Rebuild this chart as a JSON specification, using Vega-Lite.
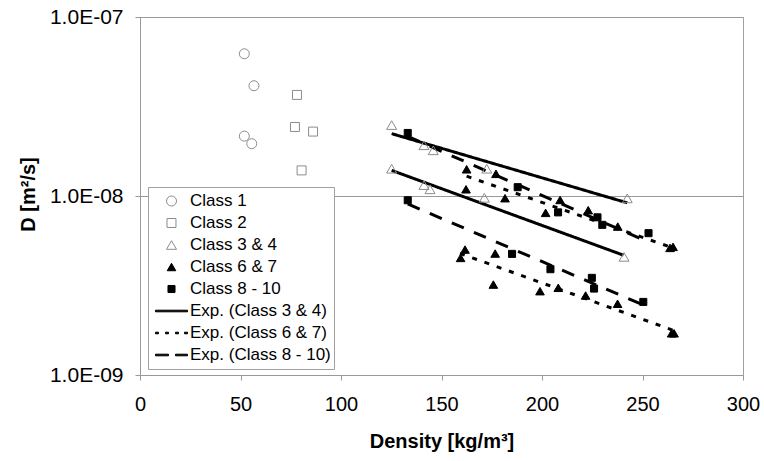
{
  "$schema": "https://vega.github.io/schema/vega-lite/v6.json",
  "width": 603,
  "height": 358,
  "autosize": {"type": "none"},
  "padding": {"left": 140, "top": 17, "right": 21, "bottom": 86},
  "background": "white",
  "config": {
    "view": {"stroke": "#a0a0a0", "strokeWidth": 1},
    "font": "Liberation Sans",
    "axis": {
      "labelFont": "Liberation Sans",
      "titleFont": "Liberation Sans",
      "labelColor": "black",
      "titleColor": "black",
      "domainColor": "#999999",
      "tickColor": "#999999",
      "gridColor": "#999999",
      "tickSize": 5,
      "labelFontSize": 20,
      "titleFontSize": 20,
      "titleFontWeight": "bold",
      "labelFlush": false,
      "labelOverlap": false
    },
    "legend": {
      "title": null,
      "orient": "none",
      "legendX": 8,
      "legendY": 170,
      "padding": 3,
      "rowPadding": 0,
      "clipHeight": 22,
      "symbolSize": 1024,
      "symbolStrokeWidth": 1,
      "symbolOffset": 4,
      "labelOffset": 2,
      "labelFont": "Liberation Sans",
      "labelFontSize": 17,
      "labelColor": "black",
      "labelLimit": 300,
      "strokeColor": "#a0a0a0",
      "fillColor": "white",
      "symbolOpacity": 1
    }
  },
  "datasets": {
    "pts": [
      {"density": 51.9, "D": 6.23e-8, "series": "Class 1"},
      {"density": 56.7, "D": 4.13e-8, "series": "Class 1"},
      {"density": 51.9, "D": 2.16e-8, "series": "Class 1"},
      {"density": 55.6, "D": 1.96e-8, "series": "Class 1"},
      {"density": 78.1, "D": 3.67e-8, "series": "Class 2"},
      {"density": 77.1, "D": 2.43e-8, "series": "Class 2"},
      {"density": 86.1, "D": 2.29e-8, "series": "Class 2"},
      {"density": 80.4, "D": 1.39e-8, "series": "Class 2"},
      {"density": 125.2, "D": 2.49e-8, "series": "Class 3 & 4"},
      {"density": 141.3, "D": 1.92e-8, "series": "Class 3 & 4"},
      {"density": 145.9, "D": 1.80e-8, "series": "Class 3 & 4"},
      {"density": 172.5, "D": 1.42e-8, "series": "Class 3 & 4"},
      {"density": 242.4, "D": 9.7e-9, "series": "Class 3 & 4"},
      {"density": 125.2, "D": 1.42e-8, "series": "Class 3 & 4"},
      {"density": 141.3, "D": 1.15e-8, "series": "Class 3 & 4"},
      {"density": 144.3, "D": 1.09e-8, "series": "Class 3 & 4"},
      {"density": 171.3, "D": 9.77e-9, "series": "Class 3 & 4"},
      {"density": 240.8, "D": 4.57e-9, "series": "Class 3 & 4"},
      {"density": 162.5, "D": 1.41e-8, "series": "Class 6 & 7"},
      {"density": 177.1, "D": 1.33e-8, "series": "Class 6 & 7"},
      {"density": 162.2, "D": 1.09e-8, "series": "Class 6 & 7"},
      {"density": 181.6, "D": 9.72e-9, "series": "Class 6 & 7"},
      {"density": 201.8, "D": 8.05e-9, "series": "Class 6 & 7"},
      {"density": 209.0, "D": 9.5e-9, "series": "Class 6 & 7"},
      {"density": 223.0, "D": 8.33e-9, "series": "Class 6 & 7"},
      {"density": 237.7, "D": 6.75e-9, "series": "Class 6 & 7"},
      {"density": 263.7, "D": 5.13e-9, "series": "Class 6 & 7"},
      {"density": 265.2, "D": 5.2e-9, "series": "Class 6 & 7"},
      {"density": 161.7, "D": 5.02e-9, "series": "Class 6 & 7"},
      {"density": 159.5, "D": 4.51e-9, "series": "Class 6 & 7"},
      {"density": 176.7, "D": 4.77e-9, "series": "Class 6 & 7"},
      {"density": 175.8, "D": 3.2e-9, "series": "Class 6 & 7"},
      {"density": 199.0, "D": 2.94e-9, "series": "Class 6 & 7"},
      {"density": 208.1, "D": 3.07e-9, "series": "Class 6 & 7"},
      {"density": 221.7, "D": 2.78e-9, "series": "Class 6 & 7"},
      {"density": 237.6, "D": 2.5e-9, "series": "Class 6 & 7"},
      {"density": 264.5, "D": 1.71e-9, "series": "Class 6 & 7"},
      {"density": 265.7, "D": 1.71e-9, "series": "Class 6 & 7"},
      {"density": 133.2, "D": 2.25e-8, "series": "Class 8 - 10"},
      {"density": 187.9, "D": 1.12e-8, "series": "Class 8 - 10"},
      {"density": 208.0, "D": 8.1e-9, "series": "Class 8 - 10"},
      {"density": 227.6, "D": 7.6e-9, "series": "Class 8 - 10"},
      {"density": 230.0, "D": 6.9e-9, "series": "Class 8 - 10"},
      {"density": 253.0, "D": 6.2e-9, "series": "Class 8 - 10"},
      {"density": 133.2, "D": 9.47e-9, "series": "Class 8 - 10"},
      {"density": 185.1, "D": 4.75e-9, "series": "Class 8 - 10"},
      {"density": 204.2, "D": 3.9e-9, "series": "Class 8 - 10"},
      {"density": 224.8, "D": 3.49e-9, "series": "Class 8 - 10"},
      {"density": 225.9, "D": 3.04e-9, "series": "Class 8 - 10"},
      {"density": 250.4, "D": 2.56e-9, "series": "Class 8 - 10"}
    ],
    "fits": [
      {"density": 125.2, "D": 2.23e-8, "fit": "Exp. (Class 3 & 4)", "band": "a"},
      {"density": 242.4, "D": 9.16e-9, "fit": "Exp. (Class 3 & 4)", "band": "a"},
      {"density": 125.2, "D": 1.39e-8, "fit": "Exp. (Class 3 & 4)", "band": "b"},
      {"density": 240.5, "D": 4.67e-9, "fit": "Exp. (Class 3 & 4)", "band": "b"},
      {"density": 162.5, "D": 1.29e-8, "fit": "Exp. (Class 6 & 7)", "band": "c"},
      {"density": 264.7, "D": 5.15e-9, "fit": "Exp. (Class 6 & 7)", "band": "c"},
      {"density": 159.2, "D": 4.78e-9, "fit": "Exp. (Class 6 & 7)", "band": "d"},
      {"density": 265.7, "D": 1.77e-9, "fit": "Exp. (Class 6 & 7)", "band": "d"},
      {"density": 133.2, "D": 2.15e-8, "fit": "Exp. (Class 8 - 10)", "band": "e"},
      {"density": 253.4, "D": 5.5e-9, "fit": "Exp. (Class 8 - 10)", "band": "e"},
      {"density": 133.2, "D": 9.03e-9, "fit": "Exp. (Class 8 - 10)", "band": "f"},
      {"density": 250.4, "D": 2.46e-9, "fit": "Exp. (Class 8 - 10)", "band": "f"}
    ]
  },
  "encoding": {
    "x": {
      "field": "density",
      "type": "quantitative",
      "scale": {"domain": [0, 300], "nice": false, "zero": false},
      "axis": {
        "values": [0, 50, 100, 150, 200, 250, 300],
        "grid": false,
        "labelPadding": 14,
        "title": "Density [kg/m³]",
        "titleBaseline": "alphabetic",
        "titleY": 72
      }
    },
    "y": {
      "field": "D",
      "type": "quantitative",
      "scale": {"type": "log", "domain": [1e-9, 1e-7], "nice": false},
      "axis": {
        "values": [1e-9, 1e-8, 1e-7],
        "grid": true,
        "labelPadding": 12,
        "labelFontSize": 21,
        "labelExpr": "'1.0E-0' + round(-log(datum.value)/LN10)",
        "title": "D [m²/s]",
        "titleBaseline": "alphabetic",
        "titleX": -106,
        "titleY": 177
      }
    }
  },
  "layer": [
    {
      "data": {"name": "fits"},
      "mark": {"type": "line", "color": "black", "strokeWidth": 3},
      "encoding": {
        "detail": {"field": "band", "type": "nominal"},
        "strokeDash": {
          "field": "fit",
          "type": "nominal",
          "scale": {
            "domain": ["Exp. (Class 3 & 4)", "Exp. (Class 6 & 7)", "Exp. (Class 8 - 10)"],
            "range": [[1, 0], [5, 8], [13, 11]]
          },
          "legend": null
        }
      }
    },
    {
      "data": {"name": "pts"},
      "mark": {"type": "point", "filled": true, "opacity": 1, "size": 1024, "strokeWidth": 1},
      "encoding": {
        "shape": {
          "field": "series",
          "type": "nominal",
          "scale": {
            "domain": ["Class 1", "Class 2", "Class 3 & 4", "Class 6 & 7", "Class 8 - 10", "Exp. (Class 3 & 4)", "Exp. (Class 6 & 7)", "Exp. (Class 8 - 10)"],
            "range": [
              "M-0.3125,0A0.3125,0.3125,0,1,1,0.3125,0A0.3125,0.3125,0,1,1,-0.3125,0Z",
              "M-0.28,-0.28H0.28V0.28H-0.28Z",
              "M0,-0.27L0.3125,0.27L-0.3125,0.27Z",
              "M0,-0.234L0.27,0.234L-0.27,0.234Z",
              "M-0.22,-0.22H0.22V0.22H-0.22Z",
              "M-1,-0.05H1V0.05H-1Z",
              "M-1,-0.05H-0.8125V0.05H-1ZM-0.375,-0.05H-0.1875V0.05H-0.375ZM0.25,-0.05H0.4375V0.05H0.25ZM0.8125,-0.05H1V0.05H0.8125Z",
              "M-1,-0.05H-0.1875V0.05H-1ZM0.25,-0.05H1V0.05H0.25Z"
            ]
          },
          "legend": {"title": null}
        },
        "fill": {
          "field": "series",
          "type": "nominal",
          "scale": {
            "domain": ["Class 1", "Class 2", "Class 3 & 4", "Class 6 & 7", "Class 8 - 10", "Exp. (Class 3 & 4)", "Exp. (Class 6 & 7)", "Exp. (Class 8 - 10)"],
            "range": ["transparent", "transparent", "transparent", "black", "black", "black", "black", "black"]
          },
          "legend": {"title": null}
        },
        "stroke": {
          "field": "series",
          "type": "nominal",
          "scale": {
            "domain": ["Class 1", "Class 2", "Class 3 & 4", "Class 6 & 7", "Class 8 - 10", "Exp. (Class 3 & 4)", "Exp. (Class 6 & 7)", "Exp. (Class 8 - 10)"],
            "range": ["#8c8c8c", "#8c8c8c", "#8c8c8c", "black", "black", "black", "black", "black"]
          },
          "legend": {"title": null}
        }
      }
    }
  ]
}
